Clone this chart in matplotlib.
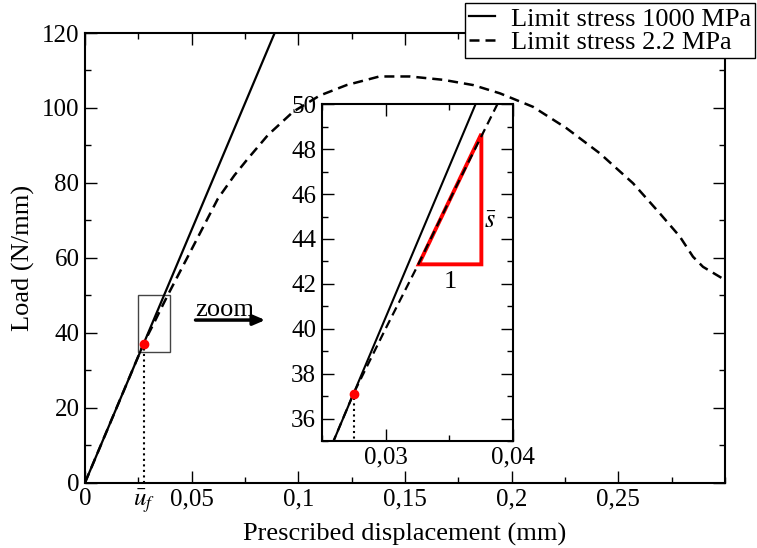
import matplotlib
matplotlib.use("Agg")
import matplotlib.pyplot as plt
from matplotlib.patches import Rectangle, Polygon
from matplotlib.ticker import MultipleLocator, FuncFormatter

plt.rcParams["font.family"] = ["Liberation Serif", "DejaVu Serif"]
plt.rcParams["mathtext.fontset"] = "stix"

# data
stiff_x = [0.0, 0.0889]
stiff_y = [0.0, 120.0]

soft_x = [0.0, 0.02748, 0.030, 0.0325, 0.0355, 0.03875, 0.050, 0.0623, 0.070,
          0.0764, 0.0858, 0.0976, 0.110, 0.1226, 0.138, 0.1523, 0.168, 0.182,
          0.1945, 0.21, 0.2257, 0.2413, 0.2569, 0.2694, 0.2788, 0.285, 0.2897, 0.30]
soft_y = [0.0, 37.1, 40.0, 42.8, 46.3, 50.0, 62.3, 75.8, 82.0,
          86.5, 92.8, 99.0, 103.3, 106.1, 108.4, 108.4, 107.5, 106.1,
          103.9, 100.3, 94.6, 87.9, 79.9, 71.9, 65.7, 60.3, 57.6, 54.1]

u_f = 0.0275
load_f = 37.1

# slope triangle corners (x0, x1, y0, y1)
tri_x = [0.0326, 0.0375]
tri_y = [42.87, 48.68]

labels = ["Limit stress 1000 MPa", "Limit stress 2.2 MPa"]

fs = 18
W, H = 757, 548
fig = plt.figure(figsize=(W / 100, H / 100), dpi=100)

ax = fig.add_axes([85 / W, 1 - 482.7 / H, 640 / W, 449.7 / H])
ins = fig.add_axes([321.7 / W, 1 - 441 / H, 191.6 / W, 336.7 / H])
ax.set_zorder(2)
ax.patch.set_visible(False)
ins.set_zorder(1)


def style(a):
    a.tick_params(which="both", direction="in", top=True, right=True,
                  labelsize=fs, width=1.0)
    a.tick_params(which="major", length=8.5, pad=4)
    a.tick_params(which="minor", length=4.3)
    for s in a.spines.values():
        s.set_linewidth(1.5)


def comma(v, pos):
    return f"{v:g}".replace(".", ",")


dash = (0, (4, 2.4))

# main axes
l1, = ax.plot(stiff_x, stiff_y, color="black", lw=1.6, label=labels[0])
l2, = ax.plot(soft_x, soft_y, color="black", lw=1.8, ls=dash, label=labels[1])
ax.plot([u_f, u_f], [0, load_f], color="black", lw=1.5, ls=":")
ax.plot([u_f], [load_f], "o", color="red", ms=6, zorder=5)
ax.add_patch(Rectangle((0.025, 35), 0.015, 15, fill=False, edgecolor="#444444", lw=1))
ax.annotate("", xy=(0.0858, 43.4), xytext=(0.0505, 43.4),
            arrowprops=dict(arrowstyle="-|>,head_length=0.7,head_width=0.3",
                            color="black", lw=2.5))
ax.text(0.0656, 46.2, "zoom", ha="center", va="center", fontsize=fs + 1)

ax.set_xlim(0, 0.3)
ax.set_ylim(0, 120)
style(ax)
ax.set_xticks([0, u_f, 0.05, 0.1, 0.15, 0.2, 0.25])
ax.set_xticklabels(["0", r"$\bar{u}_f$", "0,05", "0,1", "0,15", "0,2", "0,25"])
t = ax.xaxis.get_major_ticks()[1]
t.tick1line.set_visible(False)
t.tick2line.set_visible(False)
ax.xaxis.set_minor_locator(MultipleLocator(0.025))
ax.yaxis.set_major_locator(MultipleLocator(20))
ax.yaxis.set_minor_locator(MultipleLocator(10))
ax.set_xlabel("Prescribed displacement (mm)", fontsize=fs + 1, labelpad=5)
ax.set_ylabel("Load (N/mm)", fontsize=fs + 1, labelpad=5)

ax.legend(handles=[l1, l2], loc="upper right", bbox_to_anchor=(755 / W, 1 - 3.3 / H),
          bbox_transform=fig.transFigure, borderaxespad=0, fancybox=False,
          framealpha=1, edgecolor="black", fontsize=fs + 1, handlelength=1.0,
          handletextpad=0.6, labelspacing=0.0, borderpad=0.15)

# inset
ins.plot(stiff_x, stiff_y, color="black", lw=1.5)
ins.plot(soft_x, soft_y, color="black", lw=1.6, ls=dash)
ins.plot([u_f, u_f], [30, load_f], color="black", lw=1.5, ls=":")
ins.plot([u_f], [load_f], "o", color="red", ms=6, zorder=5)
ins.add_patch(Polygon([(tri_x[0], tri_y[0]), (tri_x[1], tri_y[0]), (tri_x[1], tri_y[1])],
                      closed=True, fill=False, edgecolor="red", lw=2.8))
ins.text((tri_x[0] + tri_x[1]) / 2, tri_y[0] - 0.3, "1", ha="center", va="top", fontsize=fs + 1)
ins.text(tri_x[1] + 0.0007, 44.75, r"$\bar{s}$", ha="center", va="center", fontsize=fs + 1)
ins.set_xlim(0.025, 0.04)
ins.set_ylim(35, 50)
style(ins)
ins.xaxis.set_major_locator(MultipleLocator(0.01))
ins.xaxis.set_minor_locator(MultipleLocator(0.005))
ins.xaxis.set_major_formatter(FuncFormatter(comma))
ins.yaxis.set_major_locator(MultipleLocator(2))
ins.yaxis.set_minor_locator(MultipleLocator(1))

fig.savefig("out.png", dpi=100)
